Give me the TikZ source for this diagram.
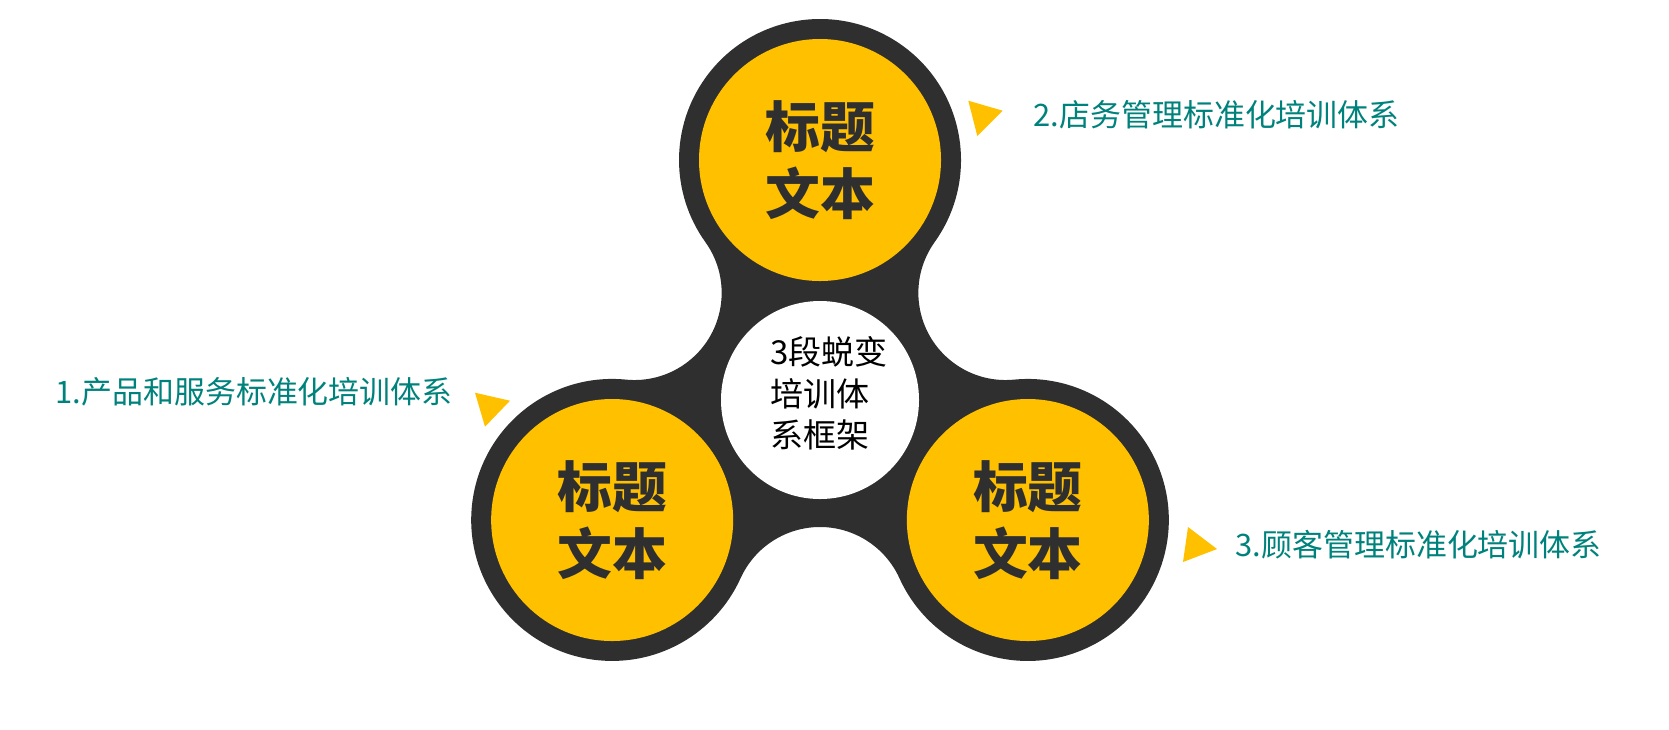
\documentclass[tikz,border=0pt]{standalone}
\usepackage{fontspec}
\setmainfont{Noto Sans CJK SC}
\usepackage{xcolor}
\definecolor{spindark}{HTML}{2F2F2F}
\definecolor{spingold}{HTML}{FFC000}
\definecolor{spinteal}{HTML}{00827C}
\tikzset{
  titledisc/.style={circle, fill=spingold, minimum size=2.42cm, inner sep=0pt, align=center,
    text=spindark, font=\bfseries\fontsize{15.6}{19}\selectfont},
  steplabel/.style={anchor=west, inner sep=0pt, text=spinteal, font=\fontsize{8.8}{10.5}\selectfont},
  marker/.style={fill=spingold}
}

\begin{document}
\begin{tikzpicture}
  \useasboundingbox (0,0) rectangle (16.69,7.29);

  \coordinate (O) at (8.20,3.29);
  \coordinate (P1) at ({8.20+2.4*cos(210)},{3.29+2.4*sin(210)});
  \coordinate (P2) at ({8.20+2.4*cos(90)},{3.29+2.4*sin(90)});
  \coordinate (P3) at ({8.20+2.4*cos(330)},{3.29+2.4*sin(330)});

  \def\ro{1.41}
  \def\rf{0.872}
  \def\tg{35.6}

  \fill[spindark] (P2) ++(-\tg:\ro)
    arc[start angle=-\tg, end angle=180+\tg, radius=\ro]
    arc[start angle=\tg, end angle=-60-\tg, radius=\rf]
    arc[start angle=120-\tg, end angle=300+\tg, radius=\ro]
    arc[start angle=120+\tg, end angle=60-\tg, radius=\rf]
    arc[start angle=240-\tg, end angle=420+\tg, radius=\ro]
    arc[start angle=240+\tg, end angle=180-\tg, radius=\rf]
    -- cycle;

  \node[titledisc] (c1) at (P1) {标题\\文本};
  \node[titledisc] (c2) at (P2) {标题\\文本};
  \node[titledisc] (c3) at (P3) {标题\\文本};

  \node[circle, fill=white, minimum size=1.98cm, inner sep=0pt] (core) at (O) {};
  \node[align=left, inner sep=0pt, font=\fontsize{9.4}{11.8}\selectfont] (coretext) at (8.29,3.355)
    {3段蜕变\\培训体\\系框架};

  \fill[marker] (4.75,3.363) -- (5.10,3.283) -- (4.85,3.023) -- cycle;
  \fill[marker] (9.683,6.283) -- (10.027,6.183) -- (9.773,5.93) -- cycle;
  \fill[marker] (11.88,2.02) -- (12.17,1.80) -- (11.83,1.67) -- cycle;

  \node[steplabel] (s1) at (0.55,3.37) {1.产品和服务标准化培训体系};
  \node[steplabel] (s2) at (10.33,6.14) {2.店务管理标准化培训体系};
  \node[steplabel] (s3) at (12.35,1.84) {3.顾客管理标准化培训体系};

\end{tikzpicture}
\end{document}
